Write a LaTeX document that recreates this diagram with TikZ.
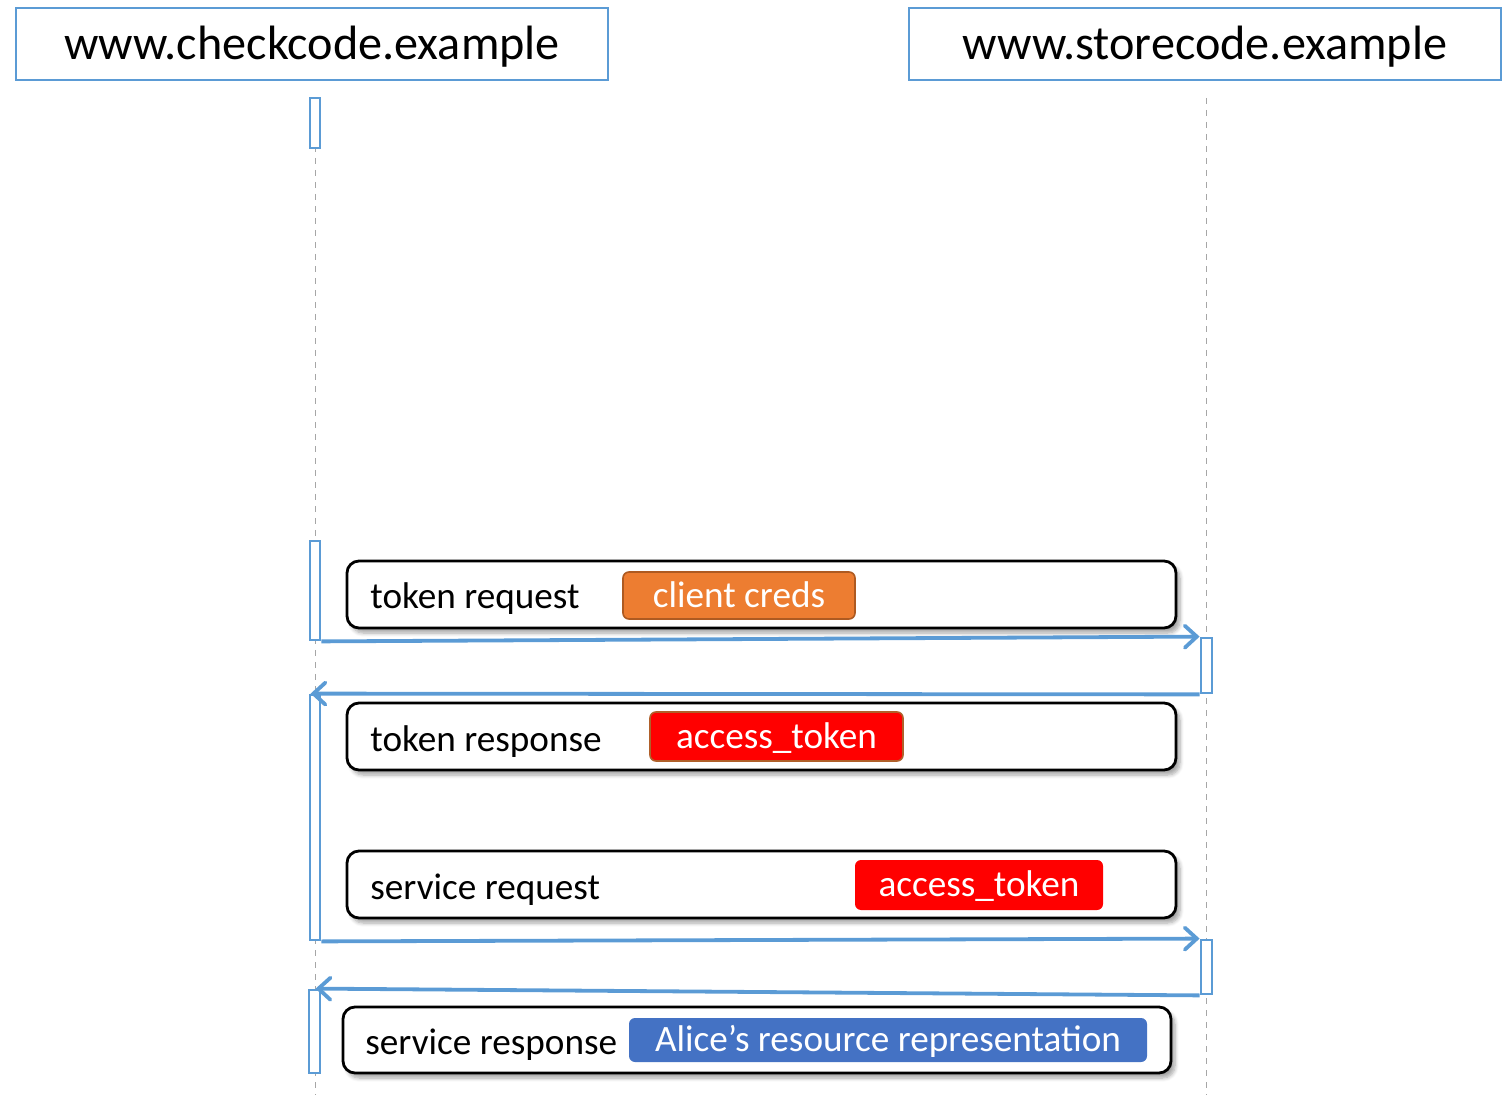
\documentclass[tikz,border=0pt]{standalone}
\usepackage{fontspec}
\setmainfont{Carlito}
\usetikzlibrary{arrows.meta,fit,shadows.blur}
\definecolor{seqblue}{HTML}{5B9BD5}
\definecolor{lifegray}{HTML}{A6A6A6}
\definecolor{credorange}{HTML}{ED7D31}
\definecolor{crededge}{HTML}{AE5A21}
\definecolor{tokenedge}{HTML}{B0602A}
\definecolor{resblue}{HTML}{4472C4}
\tikzset{
  party/.style={draw=seqblue, line width=1.3pt, inner sep=0pt},
  partytext/.style={inner sep=0pt, font=\fontsize{24.1}{28}\selectfont},
  lifeline/.style={draw=lifegray, line width=0.5pt, dash pattern=on 3pt off 3pt},
  actbar/.style={draw=seqblue, line width=1.4pt, fill=white, inner sep=0pt},
  msgbox/.style={draw=black, line width=1.4pt, rounded corners=6pt, fill=white,
    inner sep=0pt, blur shadow={shadow xshift=2pt, shadow yshift=-2.5pt,
    shadow blur steps=6, shadow opacity=35}},
  msgtext/.style={anchor=base west, inner sep=0pt,
    font=\fontsize{18.6}{22}\selectfont},
  badge/.style={rounded corners=3pt, inner sep=0pt, text=white,
    text height=12.6pt, text depth=1pt,
    font=\fontsize{18.6}{22}\selectfont},
  msg/.style={draw=seqblue, line width=1.9pt,
    -{Straight Barb[length=6pt, width=11pt, line cap=round, line width=1.9pt]}},
}
\begin{document}
\begin{tikzpicture}[x=0.5pt, y=-0.5pt]
\useasboundingbox (0,0) rectangle (1509,1095);

% participants
\node[party, fit={(16,8) (608,80)}] (chk) {};
\node[partytext] at ([yshift=-1.5pt]chk.center) {www.checkcode.example};
\node[party, fit={(909,8) (1501,80)}] (sto) {};
\node[partytext] at ([yshift=-1.5pt]sto.center) {www.storecode.example};

% lifelines
\coordinate (chkend) at (315,1095);
\coordinate (stoend) at (1206,1095);
\draw[lifeline] (315,98) -- (chkend);
\draw[lifeline] (1206,98) -- (stoend);

% activation bars
\node[actbar, fit={(310,98) (320,148)}] (a0) {};
\node[actbar, fit={(310,541) (320,640)}] (a1) {};
\node[actbar, fit={(310,695) (320,940)}] (a2) {};
\node[actbar, fit={(309,990) (320,1073)}] (a3) {};
\node[actbar, fit={(1201,638) (1212,693)}] (b1) {};
\node[actbar, fit={(1201,940) (1212,994)}] (b2) {};

% message boxes
\node[msgbox, fit={(347,561) (1176,628)}] (m1) {};
\node[msgtext] (t1) at (370,609) {token request};
\node[badge, fill=credorange, draw=crededge, line width=0.8pt,
  minimum width=116pt, minimum height=23.5pt] (c1) at (739,595.5) {client creds};

\node[msgbox, fit={(347,703) (1176,770)}] (m2) {};
\node[msgtext] (t2) at (370,751) {token response};
\node[badge, fill=red, draw=tokenedge, line width=0.8pt,
  minimum width=126.5pt, minimum height=24.5pt] (c2) at (776.5,736.5) {access\_token};

\node[msgbox, fit={(347,851) (1176,918)}] (m3) {};
\node[msgtext] (t3) at (370,899) {service request};
\node[badge, fill=red,
  minimum width=124pt, minimum height=25pt] (c3) at (979,885) {access\_token};

\node[msgbox, fit={(343,1007) (1171,1073)}] (m4) {};
\node[msgtext] (t4) at (365,1054) {service response};
\node[badge, fill=resblue,
  minimum width=259pt, minimum height=22pt] (c4) at (888,1040) {Alice’s resource representation};

% messages
\draw[msg] (a1.south east) -- (b1.north west);
\draw[msg] (b1.south west) -- ([xshift=1pt]a2.north west);
\draw[msg] (a2.south east) -- (b2.north west);
\draw[msg] (b2.south west) -- ([xshift=4pt]a3.north west);
\end{tikzpicture}
\end{document}
